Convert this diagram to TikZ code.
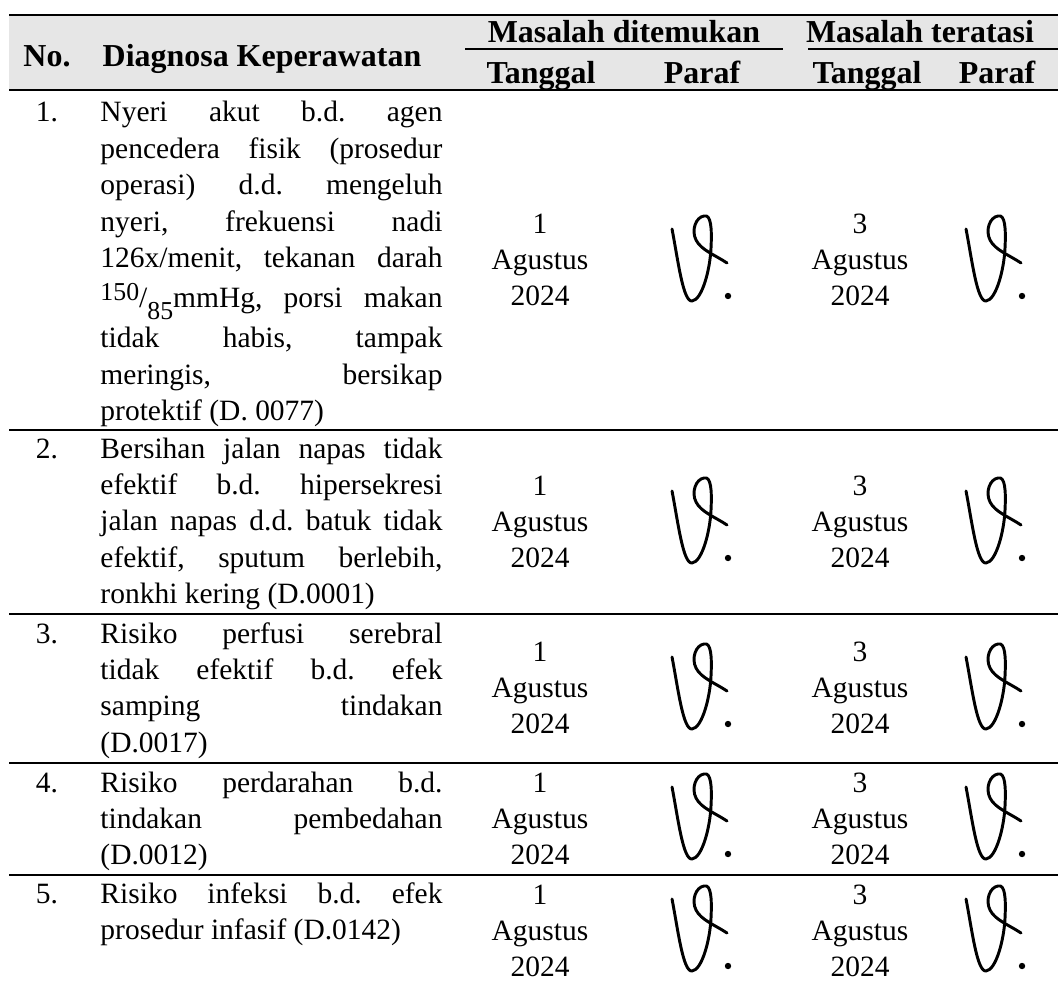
\documentclass[tikz,border=0pt]{standalone}
\usepackage{fontspec}
\setmainfont{Liberation Serif}
\usepackage{tikz}
\definecolor{mygray}{RGB}{230,230,230}
\hyphenpenalty=10000
\tikzset{
  paraf/.pic={
    \draw[line width=1.2pt, line cap=round, line join=round] (-28,-31) .. controls (-22,0) and (-17,42) .. (-8,41)
      .. controls (2,40) and (10,10) .. (11,-12) .. controls (12,-32) and (11,-46) .. (4,-44)
      .. controls (-4,-43) and (-9,-30) .. (-4,-20) .. controls (1,-10) and (15,-5) .. (27,3);
    \fill (28,36) circle (1.3pt);
  }
}

\begin{document}
\begin{tikzpicture}[x=0.407pt, y=-0.407pt,
        hd/.style={font=\fontsize{13}{15}\selectfont\bfseries, inner sep=0pt, anchor=base},
        txt/.style={font=\fontsize{12}{14.8}\selectfont\frenchspacing, inner sep=0pt},
        isi/.style={txt, text width=139.2pt, align=justify, anchor=base west},
        nomor/.style={txt, anchor=base},
        tgl/.style={txt, text width=60pt, align=center},
        garis/.style={line width=1.1pt}]
        \useasboundingbox (0,0) rectangle (1058,981);
        \fill[mygray] (9,15) rectangle (1058,90);
        \draw[garis] (9,15) -- (1058,15);
        \draw[garis] (9,90) -- (1058,90);
        \draw[garis] (465,49) -- (783,49);
        \draw[garis] (808,49) -- (1058,49);
        \draw[garis] (9,430) -- (1058,430);
        \draw[garis] (9,614) -- (1058,614);
        \draw[garis] (9,763) -- (1058,763);
        \draw[garis] (9,875) -- (1058,875);

        \node[hd] (H1) at (47,67) {No.};
        \node[hd] (H2) at (262,67) {Diagnosa Keperawatan};
        \node[hd] (H3) at (624,43) {Masalah ditemukan};
        \node[hd] (H4) at (920,43) {Masalah teratasi};
        \node[hd] (H5) at (541,84) {Tanggal};
        \node[hd] (H6) at (702,84) {Paraf};
        \node[hd] (H7) at (867,84) {Tanggal};
        \node[hd] (H8) at (997,84) {Paraf};

        \node[nomor] (N1) at (47,122) {1.};
        \node[isi] (D1) at (100,122) {Nyeri akut b.d. agen\linebreak pencedera fisik (prosedur\linebreak operasi) d.d. mengeluh\linebreak nyeri, frekuensi nadi\linebreak 126x/menit, tekanan darah\linebreak \rule[-7pt]{0pt}{20.6pt}\raisebox{3pt}{\fontsize{10.5}{10}\selectfont 150}/\raisebox{-4.8pt}{\fontsize{10.5}{10}\selectfont 85}mmHg, porsi makan\linebreak tidak habis, tampak\linebreak meringis, bersikap\linebreak protektif (D. 0077)};
        \node[tgl] (T1) at (540,260) {1\\Agustus\\2024};
        \pic at (700,260) {paraf};
        \node[tgl] (U1) at (860,260) {3\\Agustus\\2024};
        \pic at (994,260) {paraf};

        \node[nomor] (N2) at (47,458) {2.};
        \node[isi] (D2) at (100,458) {Bersihan jalan napas tidak\linebreak efektif b.d. hipersekresi\linebreak jalan napas d.d. batuk tidak\linebreak efektif, sputum berlebih,\linebreak ronkhi kering (D.0001)};
        \node[tgl] (T2) at (540,522) {1\\Agustus\\2024};
        \pic at (700,522) {paraf};
        \node[tgl] (U2) at (860,522) {3\\Agustus\\2024};
        \pic at (994,522) {paraf};

        \node[nomor] (N3) at (47,643) {3.};
        \node[isi] (D3) at (100,643) {Risiko perfusi serebral\linebreak tidak efektif b.d. efek\linebreak samping tindakan\linebreak (D.0017)};
        \node[tgl] (T3) at (540,688) {1\\Agustus\\2024};
        \pic at (700,688) {paraf};
        \node[tgl] (U3) at (860,688) {3\\Agustus\\2024};
        \pic at (994,688) {paraf};

        \node[nomor] (N4) at (47,792) {4.};
        \node[isi] (D4) at (100,792) {Risiko perdarahan b.d.\linebreak tindakan pembedahan\linebreak (D.0012)};
        \node[tgl] (T4) at (540,819) {1\\Agustus\\2024};
        \pic at (700,818) {paraf};
        \node[tgl] (U4) at (860,819) {3\\Agustus\\2024};
        \pic at (994,818) {paraf};

        \node[nomor] (N5) at (47,903) {5.};
        \node[isi] (D5) at (100,903) {Risiko infeksi b.d. efek\linebreak prosedur infasif (D.0142)};
        \node[tgl] (T5) at (540,931) {1\\Agustus\\2024};
        \pic at (700,930) {paraf};
        \node[tgl] (U5) at (860,931) {3\\Agustus\\2024};
        \pic at (994,930) {paraf};
\end{tikzpicture}
\end{document}
